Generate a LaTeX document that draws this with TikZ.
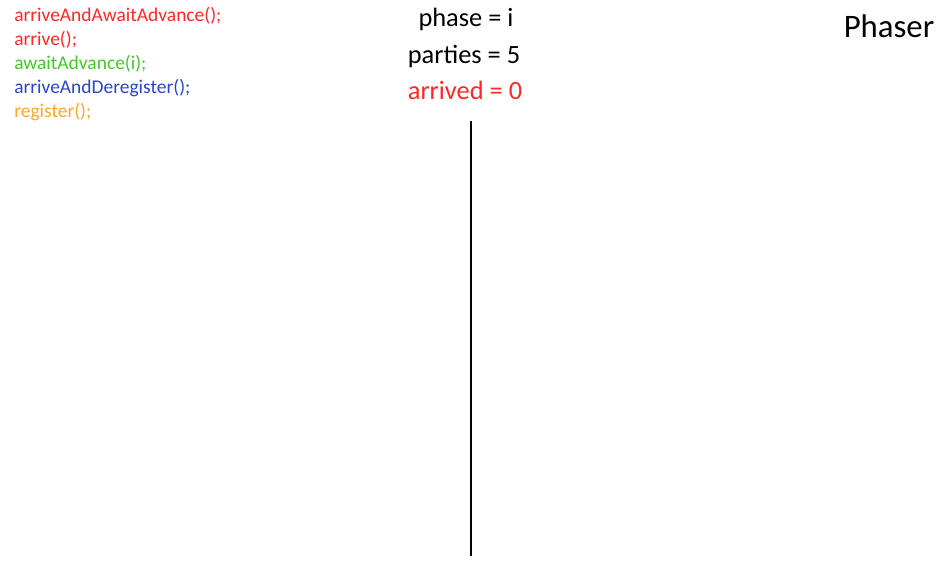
\documentclass[tikz,border=0pt]{standalone}
\usepackage{fontspec}
\setmainfont{Carlito}
\definecolor{cred}{RGB}{255,38,38}
\definecolor{cgreen}{RGB}{68,200,40}
\definecolor{cblue}{RGB}{40,70,200}
\definecolor{corange}{RGB}{255,165,40}
\begin{document}
\begin{tikzpicture}[x=0.75pt,y=-0.75pt,
  code/.style={anchor=base west,inner sep=0pt,font=\fontsize{14.6}{17}\selectfont},
  info/.style={anchor=base,inner sep=0pt,font=\fontsize{19.8}{23}\selectfont},
  title/.style={anchor=base,inner sep=0pt,font=\fontsize{24.6}{29}\selectfont}]
\useasboundingbox (0,0) rectangle (945,567);
\node[code,text=cred] (c1) at (14,21.7) {arriveAndAwaitAdvance();};
\node[code,text=cred] (c2) at (14,45.7) {arrive();};
\node[code,text=cgreen] (c3) at (14,69.5) {awaitAdvance(i);};
\node[code,text=cblue] (c4) at (14,93.3) {arriveAndDeregister();};
\node[code,text=corange] (c5) at (14,117.2) {register();};
\node[info] (ph) at (466,26.7) {phase = i};
\node[info] (pa) at (464,63.3) {parties = 5};
\node[info,text=cred] (ar) at (465,99) {arrived = 0};
\node[title] (t) at (889,37.3) {Phaser};
\coordinate (top) at (471,121);
\coordinate (bot) at (471,556);
\draw[line width=1.5pt] (top) -- (bot);
\end{tikzpicture}
\end{document}
